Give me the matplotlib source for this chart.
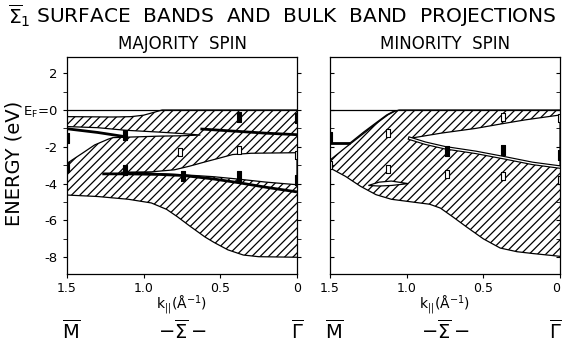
import numpy as np
import matplotlib
matplotlib.use('Agg')
import matplotlib.pyplot as plt
from matplotlib.transforms import blended_transform_factory

plt.rcParams['font.family'] = ['DejaVu Sans']
plt.rcParams['mathtext.fontset'] = 'dejavusans'
plt.rcParams['hatch.linewidth'] = 0.9

# ---- majority spin ----
# upper / lower edge of the bulk band projection
maj_top_k = [1.5, 1.2, 1.08, 1.0, 0.93, 0.88, 0.0]
maj_top_e = [-0.36, -0.38, -0.36, -0.28, -0.12, 0.0, 0.0]
maj_low_k = [1.5, 1.3, 1.1, 0.95, 0.85, 0.78, 0.7, 0.6, 0.54, 0.45, 0.35, 0.25, 0.0]
maj_low_e = [-4.62, -4.7, -4.85, -5.05, -5.4, -5.8, -6.3, -6.9, -7.2, -7.6, -7.88, -7.97, -8.0]

# gaps in the projection
maj_gap1_k = [1.5, 1.3, 1.12, 0.9, 0.75, 0.63, 0.75, 0.9, 1.05, 1.2, 1.23, 1.32, 1.4, 1.5]
maj_gap1_e = [-0.9, -0.96, -1.1, -1.2, -1.28, -1.36, -1.4, -1.42, -1.46, -1.5, -1.58, -1.9, -2.35, -2.9]
maj_gap2_k = [1.15, 0.95, 0.8, 0.7, 0.6, 0.5, 0.42, 0.3, 0.0, 0.0, 0.2, 0.4, 0.55, 0.74, 0.95, 1.15]
maj_gap2_e = [-3.38, -3.36, -3.25, -3.05, -2.82, -2.6, -2.42, -2.35, -2.32,
              -4.06, -3.92, -3.74, -3.62, -3.52, -3.44, -3.38]

# calculated surface bands
maj_band1_k = [1.5, 1.3, 1.12]
maj_band1_e = [-1.02, -1.22, -1.45]
maj_band2_k = [0.63, 0.5, 0.35, 0.2, 0.0]
maj_band2_e = [-1.03, -1.1, -1.18, -1.26, -1.34]
maj_band3_k = [1.27, 1.1, 0.9, 0.74, 0.55, 0.38, 0.2, 0.0]
maj_band3_e = [-3.47, -3.47, -3.5, -3.56, -3.74, -3.95, -4.2, -4.45]

# measured peaks
maj_full_k = [1.5, 1.5, 1.12, 1.12, 0.745, 0.38, 0.38, 0.0, 0.0]
maj_full_e = [-1.5, -3.08, -1.36, -3.26, -3.59, -0.38, -3.59, -0.45, -3.8]
maj_open_k = [0.76, 0.38, 0.0]
maj_open_e = [-2.26, -2.17, -2.45]

# ---- minority spin ----
min_top_k = [1.5, 1.4, 1.28, 1.18, 1.12, 1.08, 1.05, 0.0]
min_top_e = [-2.72, -2.05, -1.27, -0.62, -0.25, -0.08, 0.0, 0.0]
min_low_k = [1.5, 1.4, 1.3, 1.2, 1.1, 0.98, 0.85, 0.78, 0.7, 0.61, 0.5, 0.39, 0.28, 0.175, 0.0]
min_low_e = [-3.15, -3.6, -4.15, -4.6, -4.85, -4.98, -5.12, -5.33, -5.8, -6.35, -7.0, -7.5, -7.7, -7.8, -7.95]

min_gap1_k = [0.98, 0.77, 0.55, 0.38, 0.23, 0.0, 0.0, 0.18, 0.36, 0.55, 0.75, 0.88, 0.98]
min_gap1_e = [-1.54, -1.25, -1.0, -0.75, -0.54, -0.27, -3.1, -2.9, -2.6, -2.3, -2.05, -1.8, -1.54]
min_gap2_k = [1.25, 1.18, 1.1, 0.99, 1.1, 1.18, 1.25]
min_gap2_e = [-4.1, -3.92, -3.86, -4.0, -4.1, -4.13, -4.1]

min_band1_k = [1.5, 1.37]
min_band1_e = [-1.8, -1.8]
min_band2_k = [1.37, 1.28, 1.2, 1.13, 1.08]
min_band2_e = [-1.8, -1.2, -0.7, -0.27, -0.05]
min_band3_k = [0.98, 0.88, 0.75, 0.55, 0.36, 0.18, 0.0]
min_band3_e = [-1.54, -1.8, -2.05, -2.3, -2.6, -2.9, -3.1]

min_full_k = [1.5, 0.74, 0.37, 0.0]
min_full_e = [-1.45, -2.23, -2.17, -2.45]
min_open_k = [1.5, 1.12, 1.12, 0.74, 0.37, 0.37, 0.0, 0.0]
min_open_e = [-3.0, -1.27, -3.2, -3.5, -0.36, -3.6, -0.45, -3.8]

k_ticks = [1.5, 1.0, 0.5, 0]
k_ticklabels = ['1.5', '1.0', '0.5', '0']
e_ticklabels = ['-8', '-6', '-4', '-2', r'E$_\mathrm{F}$=0', '2']

# tall thin box used for the data points
bar = [(-0.22, -0.5), (0.22, -0.5), (0.22, 0.5), (-0.22, 0.5), (-0.22, -0.5)]


def bulk(ax, top_k, top_e, low_k, low_e):
    # hatched projection between top and bottom edge
    xs = list(top_k) + list(low_k)[::-1]
    ys = list(top_e) + list(low_e)[::-1]
    ax.fill(xs, ys, facecolor='white', edgecolor='black', hatch='////', linewidth=0)
    ax.plot(top_k, top_e, color='black', lw=0.9)
    ax.plot(low_k, low_e, color='black', lw=0.9)


def gap(ax, k, e):
    ax.fill(k, e, facecolor='white', edgecolor='black', linewidth=0.9)


def points(ax, full_k, full_e, open_k, open_e):
    ax.plot(full_k, full_e, ls='none', marker=bar, ms=6.5, mfc='black', mec='black', mew=0.8)
    ax.plot(open_k, open_e, ls='none', marker=bar, ms=5.5, mfc='white', mec='black', mew=0.8)


def setup(ax, title, gamma_k):
    ax.set_xlim(1.5, 0)
    ax.set_ylim(-8.91, 2.88)
    ax.axhline(0, color='black', lw=0.9)
    ax.set_xticks(k_ticks)
    ax.set_xticklabels(k_ticklabels)
    ax.tick_params(axis='x', direction='out', length=3, labelsize=9, pad=3)
    ax.set_yticks(np.arange(-8, 3, 2))
    ax.set_yticks(np.arange(-7, 3, 2), minor=True)
    ax.text(0.5, 1.06, title, transform=ax.transAxes, ha='center', va='center', fontsize=12)
    ax.text(0.5, -0.143, r'k$_{||}$(Å$^{-1}$)', transform=ax.transAxes,
            ha='center', va='center', fontsize=10)
    tr = blended_transform_factory(ax.transData, ax.transAxes)
    ax.text(1.47, -0.262, r'$\overline{\mathrm{M}}$', transform=tr, ha='center', va='center', fontsize=14)
    ax.text(0.75, -0.262, r'$-\overline{\Sigma}-$', transform=tr, ha='center', va='center', fontsize=14)
    ax.text(gamma_k, -0.262, r'$\overline{\Gamma}$', transform=tr, ha='center', va='center', fontsize=14)
    for s in ax.spines.values():
        s.set_linewidth(0.9)


fig = plt.figure(figsize=(5.62, 3.44), dpi=100)
ax1 = fig.add_axes([0.1192, 0.2035, 0.4093, 0.6308])
ax2 = fig.add_axes([0.5872, 0.2035, 0.4093, 0.6308])

# majority panel
bulk(ax1, maj_top_k, maj_top_e, maj_low_k, maj_low_e)
gap(ax1, maj_gap1_k, maj_gap1_e)
gap(ax1, maj_gap2_k, maj_gap2_e)
for bk, be in [(maj_band1_k, maj_band1_e), (maj_band2_k, maj_band2_e), (maj_band3_k, maj_band3_e)]:
    ax1.plot(bk, be, color='black', lw=2.0, solid_capstyle='butt')
points(ax1, maj_full_k, maj_full_e, maj_open_k, maj_open_e)
setup(ax1, 'MAJORITY  SPIN', 0.0)
ax1.set_yticklabels(e_ticklabels)
ax1.tick_params(axis='y', which='both', direction='out', length=3, labelsize=9.5, right=True)

# minority panel
bulk(ax2, min_top_k, min_top_e, min_low_k, min_low_e)
gap(ax2, min_gap1_k, min_gap1_e)
gap(ax2, min_gap2_k, min_gap2_e)
ax2.plot(min_band1_k, min_band1_e, color='black', lw=2.0, solid_capstyle='butt')
ax2.plot(min_band2_k, min_band2_e, color='black', lw=1.0)
ax2.plot(min_band3_k, min_band3_e, color='black', lw=2.6)
ax2.plot(min_band3_k, min_band3_e, color='white', lw=0.9)
points(ax2, min_full_k, min_full_e, min_open_k, min_open_e)
setup(ax2, 'MINORITY  SPIN', 0.03)
ax2.set_yticklabels([])
ax2.tick_params(axis='y', which='both', direction='in', length=3, right=True)
# last k label sits on the figure edge, keep it inside
ax2.get_xticklabels()[-1].set_horizontalalignment('right')

fig.text(0.502, 0.956, r'$\overline{\Sigma}_1$ SURFACE  BANDS  AND  BULK  BAND  PROJECTIONS',
         ha='center', va='center', fontsize=14.5)
fig.text(0.025, 0.526, 'ENERGY (eV)', rotation=90, ha='center', va='center', fontsize=14)

fig.savefig('out.png', dpi=100)
